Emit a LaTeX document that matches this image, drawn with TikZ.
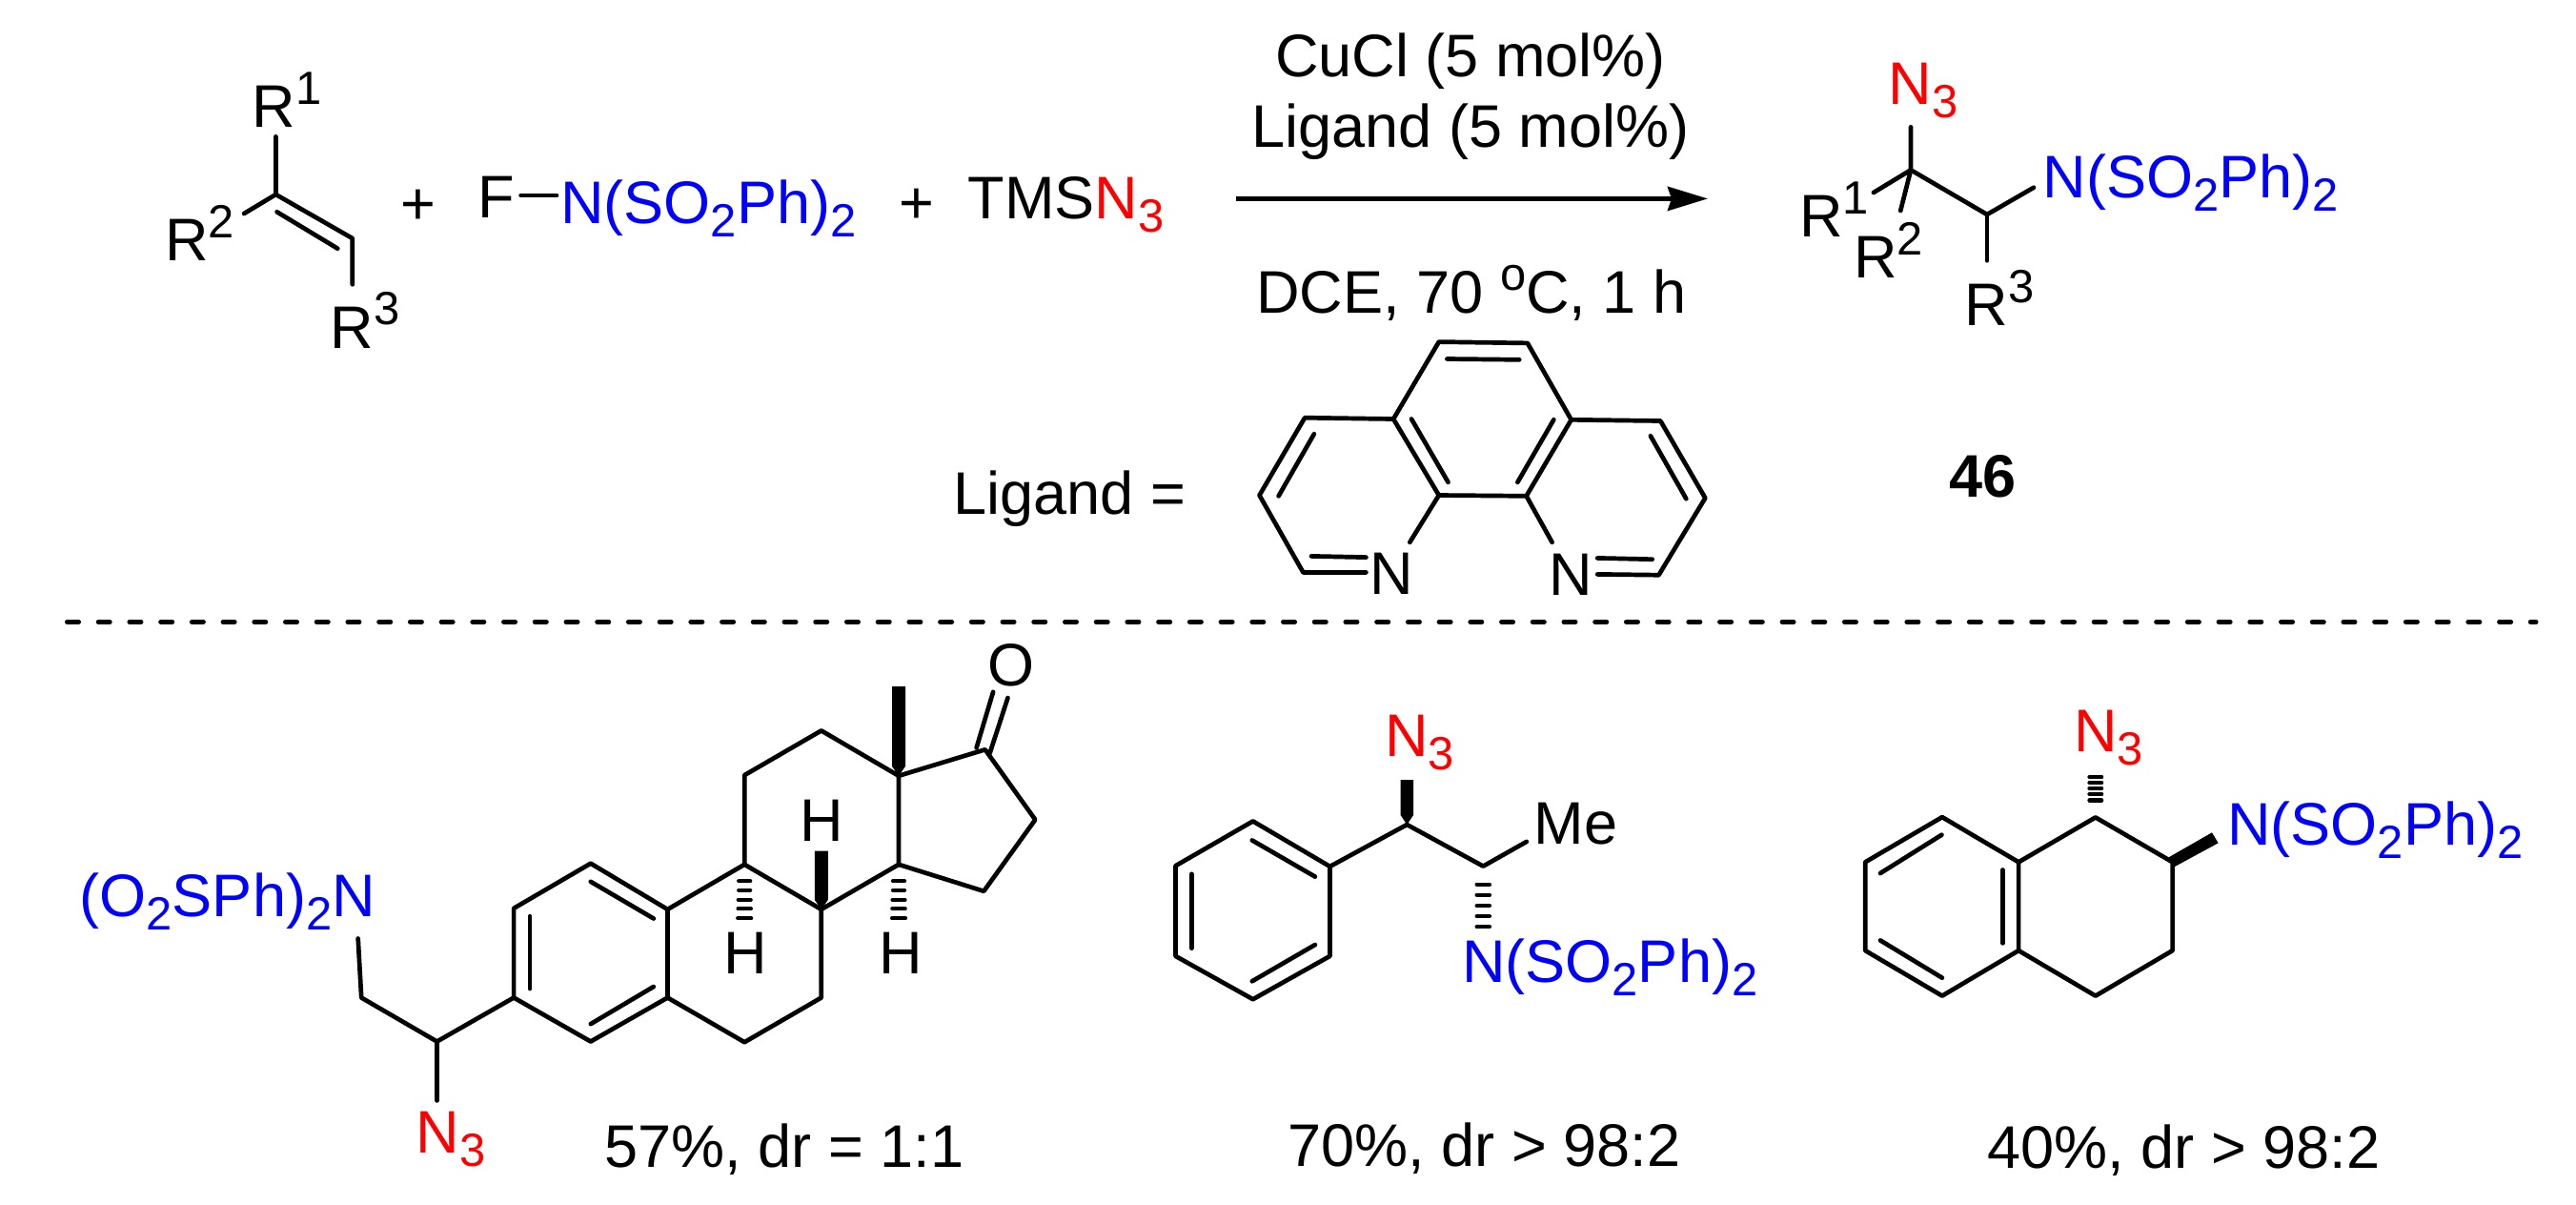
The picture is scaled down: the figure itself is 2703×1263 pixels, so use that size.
\documentclass[tikz,border=0pt]{standalone}
\usepackage{fontspec}
\setmainfont{Liberation Sans}
\usetikzlibrary{arrows.meta}
\definecolor{azide}{RGB}{255,0,0}
\definecolor{sulfon}{RGB}{0,0,255}
\newcommand{\subtxt}[1]{\raisebox{-.14cm}{\fontsize{13.9}{16}\selectfont #1}}
\newcommand{\suptxt}[1]{\raisebox{.24cm}{\fontsize{13.9}{16}\selectfont #1}}
\newcommand{\azid}{N\subtxt{3}}
\newcommand{\imide}{N(SO\subtxt{2}Ph)\subtxt{2}}
\tikzset{
  bond/.style={line width=.047cm,line join=round,line cap=round},
  wedge/.style={fill=black,draw=none},
  hashbar/.style={line width=.042cm,line cap=round},
  atom/.style={inner sep=0pt,anchor=base west,font=\fontsize{17.93}{20}\selectfont},
  mid/.style={inner sep=0pt,anchor=base,font=\fontsize{17.93}{20}\selectfont},
  rxn/.style={-{Stealth[length=.42cm,width=.25cm,inset=.04cm]},line width=.05cm},
}
\begin{document}
\begin{tikzpicture}[x=.01cm,y=-.01cm]
\useasboundingbox (0,0) rectangle (2703,1263);
% alkene
\foreach \n/\x/\y in {e1/289.4/143.3,e2/289.4/204,e3/256.1/224,e4/369.8/250,e5/369.8/298.3,e6/290.6/222.3,e7/354.3/260.7}
  \coordinate (\n) at (\x,\y);
\draw[bond] (e1) -- (e2) -- (e4) -- (e5);
\draw[bond] (e2) -- (e3);
\draw[bond] (e6) -- (e7);
\node[atom] (alkr1) at (264,133.3) {R\suptxt{1}};
\node[atom] (alkr2) at (172.5,273.3) {R\suptxt{2}};
\node[atom] (alkr3) at (346,365) {R\suptxt{3}};
\node[atom] (plus1) at (419.6,235) {+};
\node[atom] (fluor) at (501,228.3) {F};
\coordinate (f1) at (546.6,205);
\coordinate (f2) at (584,205);
\draw[bond] (f1) -- (f2);
\node[atom,text=sulfon] (nfsi) at (587.5,234.3) {\imide};
\node[atom] (plus2) at (943,234) {+};
\node[atom] (tms) at (1015,229.3) {TMS\textcolor{azide}{\azid}};
% arrow and conditions
\coordinate (r1) at (1296.8,208.4);
\coordinate (r2) at (1792,208.4);
\draw[rxn] (r1) -- (r2);
\node[mid] (cond1) at (1543,80) {CuCl (5 mol\%)};
\node[mid] (cond2) at (1543,154.6) {Ligand (5 mol\%)};
\node[mid] (cond3) at (1544,328.8) {DCE, 70 \suptxt{o}C, 1 h};
% ligand
\node[atom] (liglabel) at (1000,539) {Ligand =};
\foreach \n/\x/\y in {p1/1509.8/358.6,p2/1602.8/359.9,p3/1462.1/439.5,p4/1648.7/440.3,p5/1369.1/438.2,p6/1742.3/441.5,
  p7/1321.5/519.5,p8/1789.3/522.4,p9/1509.8/519.5,p10/1601.6/520.3,p11/1367.4/600.4,p12/1740.5/603.2,
  p13/1479.3/568.8,p14/1628.6/568.8,p15/1433.4/600.4,p16/1676.2/602.4,
  q1/1376/583.4,q2/1433.4/584.6,q3/1676.2/585.4,q4/1733.7/586.7,q5/1518.4/376.5,q6/1594.2/377.3,
  q7/1378.9/455.2,q8/1341.6/520.3,q9/1731.9/457.3,q10/1769.3/523.2,q11/1481/439.5,q12/1519.5/505.8,q13/1630.3/440.3,q14/1592.4/505.8}
  \coordinate (\n) at (\x,\y);
\draw[bond] (p15) -- (p11) -- (p7) -- (p5) -- (p3) -- (p1) -- (p2) -- (p4) -- (p6) -- (p8) -- (p12) -- (p16);
\draw[bond] (p13) -- (p9) -- (p3);
\draw[bond] (p9) -- (p10) -- (p4);
\draw[bond] (p10) -- (p14);
\foreach \a/\b in {q1/q2,q3/q4,q5/q6,q7/q8,q9/q10,q11/q12,q13/q14}
  \draw[bond] (\a) -- (\b);
\node[atom] (nleft) at (1437,623) {N};
\node[atom] (nright) at (1625,624) {N};
% product
\foreach \n/\x/\y in {c1/2005/133.3,c2/2005/178.3,c3/1965.9/202,c4/1994.2/221,c5/2085/225,c6/2134/196.7,c7/2085/273.3}
  \coordinate (\n) at (\x,\y);
\draw[bond] (c1) -- (c2) -- (c5) -- (c6);
\draw[bond] (c3) -- (c2) -- (c4);
\draw[bond] (c5) -- (c7);
\node[atom,text=azide] (prodn3) at (1981,109) {\azid};
\node[atom,text=sulfon] (prodn) at (2143,207.3) {\imide};
\node[atom] (prodr1) at (1887.4,248.3) {R\suptxt{1}};
\node[atom] (prodr2) at (1944.6,291.7) {R\suptxt{2}};
\node[atom] (prodr3) at (2061,341.7) {R\suptxt{3}};
\node[atom,font=\fontsize{17.93}{20}\selectfont\bfseries] (prodnum) at (2045,521) {46};
% separator
\coordinate (s1) at (70.5,652.3);
\coordinate (s2) at (2661,652.3);
\draw[line width=.05cm,line cap=round,dash pattern=on .12cm off .207cm] (s1) -- (s2);
% steroid
\foreach \n/\x/\y in {a/619.8/905.7,b/539.1/952.8,c/539.1/1046.5,d/619.8/1092.5,e/700.5/1046.5,f/700.5/953.9,
  g/781.2/906.8,h/861.8/953.9,i/861.8/1046.5,j/781.2/1093.2,k/781.2/813.1,l/861.8/766.4,m/943/813.8,n/943/906.8,
  o/1033.7/786.3,p/1086.3/859.8,q/1032.3/934.8,r/458.5/1092.5,s/379.2/1046.5,t/375.7/984.5,u/458.5/1154.4,
  o1/1024.6/784.4,o2/1042.1/725.8,o3/1038.6/790.1,o4/1057.5/732,
  v1/619.8/924.8,v2/685.8/963.5,v3/556/961.2,v4/556/1037,v5/619.8/1074.1,v6/685.8/1035}
  \coordinate (\n) at (\x,\y);
\draw[bond] (a) -- (b) -- (c) -- (d) -- (e) -- (f) -- cycle;
\draw[bond] (f) -- (g) -- (h) -- (i) -- (j) -- (e);
\draw[bond] (g) -- (k) -- (l) -- (m) -- (n) -- (h);
\draw[bond] (m) -- (o) -- (p) -- (q) -- (n);
\draw[bond] (c) -- (r) -- (s) -- (t);
\draw[bond] (r) -- (u);
\foreach \a/\b in {o1/o2,o3/o4,v1/v2,v3/v4,v5/v6}
  \draw[bond] (\a) -- (\b);
\fill[wedge,shift={(m)}] (0,0) -- (-7,-10) -- (-7,-93.8) -- (7,-93.8) -- (7,-10) -- cycle;
\fill[wedge,shift={(h)}] (0,0) -- (-7,-10) -- (-7,-61.2) -- (7,-61.2) -- (7,-10) -- cycle;
\foreach \d/\w in {17.5/6,27/6,37/6.5,46.5/6.7,56.5/7}{
  \draw[hashbar,shift={(g)}] (-\w,\d) -- (\w,\d);
  \draw[hashbar,shift={(n)}] (-\w,\d) -- (\w,\d);
}
\node[atom] (oxo) at (1035.5,719) {O};
\node[atom] (hup) at (839,882.7) {H};
\node[atom] (hleft) at (758.6,1021.7) {H};
\node[atom] (hright) at (921.4,1021.7) {H};
\node[atom,text=sulfon] (sidenim) at (83,961.2) {(O\subtxt{2}SPh)\subtxt{2}N};
\node[atom,text=azide] (siden3) at (436,1209.2) {\azid};
\node[atom] (yield1) at (634,1224.5) {57\%, dr = 1:1};
% phenyl
\foreach \n/\x/\y in {h1/1314.7/861.4,h2/1233.5/908.2,h3/1233.5/1002.9,h4/1314.7/1048.2,h5/1395.5/1002.9,h6/1395.5/908.9,
  h7/1476.3/865,h8/1556.3/908.6,h9/1601.8/882.9,
  w1/1313.8/881.4,w2/1379.9/919.6,w3/1250.4/916.8,w4/1250.4/994.6,w5/1313.8/1029.3,w6/1379.9/991}
  \coordinate (\n) at (\x,\y);
\draw[bond] (h1) -- (h2) -- (h3) -- (h4) -- (h5) -- (h6) -- cycle;
\draw[bond] (h6) -- (h7) -- (h8) -- (h9);
\foreach \a/\b in {w1/w2,w3/w4,w5/w6}
  \draw[bond] (\a) -- (\b);
\fill[wedge,shift={(h7)}] (0,0) -- (-6.7,-10) -- (-6.7,-47) -- (6.7,-47) -- (6.7,-10) -- cycle;
\foreach \d in {19,30,41.5,52.5,63.5}
  \draw[hashbar,shift={(h8)}] (-6.7,\d) -- (6.7,\d);
\node[atom,text=azide] (phn3) at (1452.6,793.6) {\azid};
\node[atom] (phme) at (1609,885.7) {Me};
\node[atom,text=sulfon] (phn) at (1533.4,1030.4) {\imide};
\node[atom] (yield2) at (1351,1223.2) {70\%, dr > 98:2};
% tetralin
\foreach \n/\x/\y in {t1/2037.9/857.1,t2/1957.2/904.3,t3/1957.2/997.1,t4/2037.9/1044.6,t5/2118.1/997.1,t6/2118.1/904.3,
  t7/2198.8/857.4,t8/2279.6/904.3,t9/2279.6/997.1,t10/2198.8/1044.6,
  y1/2037.4/875.7,y2/1973/916,y3/2101.3/912.5,y4/2101.3/989.3,y5/1973/986.4,y6/2037.9/1025.7}
  \coordinate (\n) at (\x,\y);
\draw[bond] (t1) -- (t2) -- (t3) -- (t4) -- (t5) -- (t6) -- cycle;
\draw[bond] (t6) -- (t7) -- (t8) -- (t9) -- (t10) -- (t5);
\foreach \a/\b in {y1/y2,y3/y4,y5/y6}
  \draw[bond] (\a) -- (\b);
\fill[wedge,shift={(t8)}] (-4,-5) -- (41.4,-31) -- (48,-20) -- (0,6) -- cycle;
\foreach \d in {17.7,24.4,30.4,36.4,42.4}
  \draw[hashbar,line width=.046cm,shift={(t7)}] (-6.2,-\d) -- (6.2,-\d);
\node[atom,text=azide] (tetn3) at (2175.5,788.2) {\azid};
\node[atom,text=sulfon] (tetn) at (2336.5,886.4) {\imide};
\node[atom] (yield3) at (2085,1225) {40\%, dr > 98:2};
\end{tikzpicture}
\end{document}
